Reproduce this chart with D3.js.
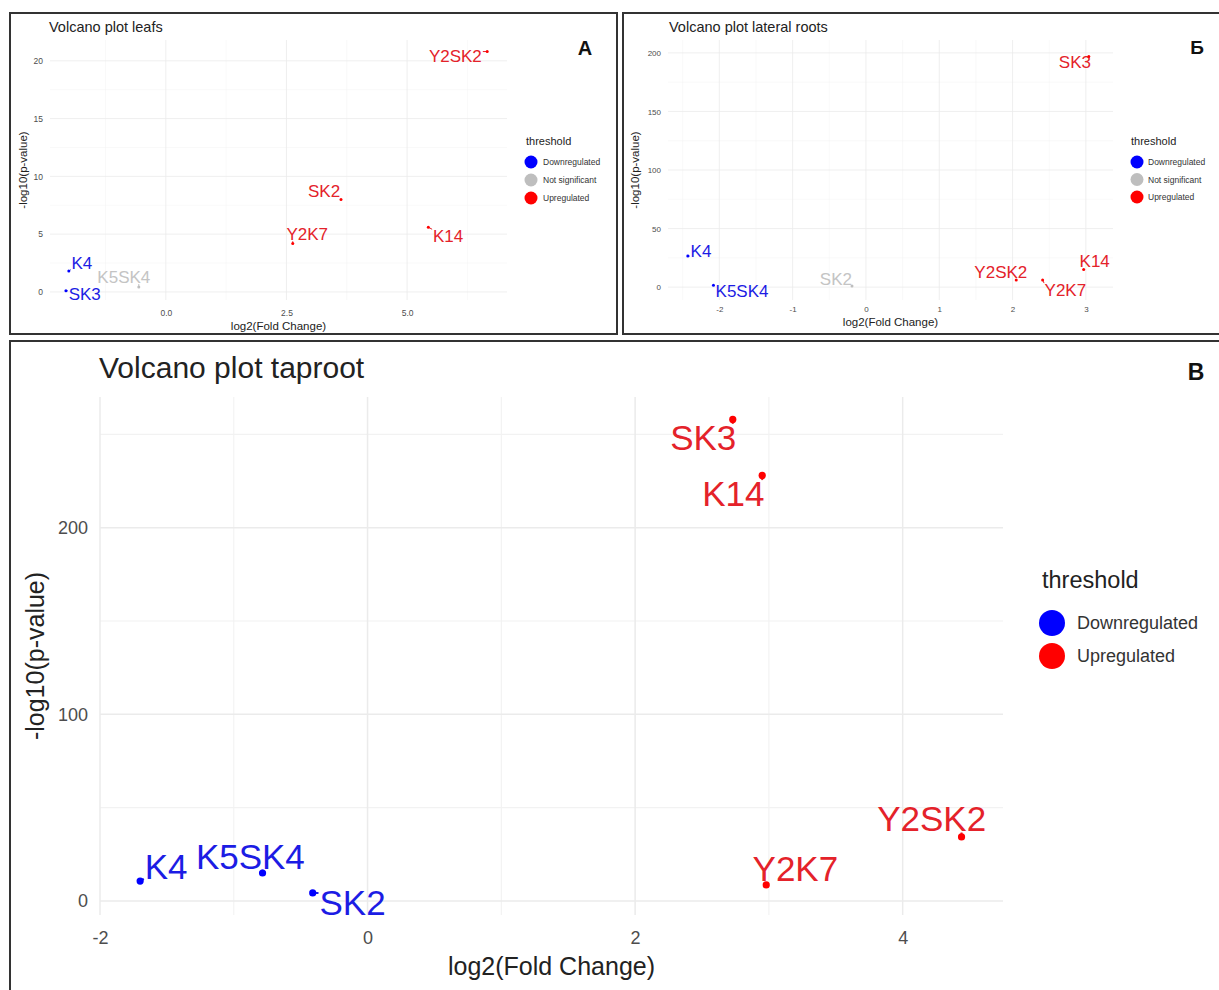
<!DOCTYPE html>
<html><head><meta charset="utf-8">
<script src="https://cdn.jsdelivr.net/npm/d3@7"></script>
<style>
body{margin:0;background:#fff}
text{font-family:"Liberation Sans",Arial,Helvetica,sans-serif}
</style>
</head><body>
<svg id="c" width="1219" height="990"></svg>
<script>
// ---------------- DATA ----------------
// Panel A: leafs
const genesLeafs   = ["Y2SK2","SK2","Y2K7","K14","K4","SK3","K5SK4"];
const fcLeafs      = [6.66, 3.63, 2.63, 5.44, -2.01, -2.07, -0.56];
const pLeafs       = [20.8, 8.0, 4.2, 5.6, 1.8, 0.1, 0.43];
const statusLeafs  = ["Upregulated","Upregulated","Upregulated","Upregulated","Downregulated","Downregulated","Not significant"];
const labelFcLeafs = [6.0, 3.28, 2.93, 5.85, -1.74, -1.68, -0.87];
const labelPLeafs  = [20.4, 8.7, 5.0, 4.85, 2.5, -0.17, 1.3];
const xTicksLeafs  = [0, 2.5, 5];
const xMinorLeafs  = [-1.25, 1.25, 3.75, 6.25];
const yTicksLeafs  = [0, 5, 10, 15, 20];
const yMinorLeafs  = [2.5, 7.5, 12.5, 17.5];

// Panel Б: lateral roots
const genesLateral   = ["SK3","K14","Y2SK2","Y2K7","K4","K5SK4","SK2"];
const fcLateral      = [3.04, 2.97, 2.05, 2.41, -2.43, -2.08, -0.19];
const pLateral       = [197, 15, 6, 6, 26.5, 1.7, 0.9];
const statusLateral  = ["Upregulated","Upregulated","Upregulated","Upregulated","Downregulated","Downregulated","Not significant"];
const labelFcLateral = [2.85, 3.12, 1.84, 2.72, -2.25, -1.69, -0.41];
const labelPLateral  = [192, 22, 12.8, -2.6, 30.8, -3.4, 6.8];
const xTicksLateral  = [-2, -1, 0, 1, 2, 3];
const xMinorLateral  = [-2.5, -1.5, -0.5, 0.5, 1.5, 2.5];
const yTicksLateral  = [0, 50, 100, 150, 200];
const yMinorLateral  = [25, 75, 125, 175];

// Panel В: taproot
const genesTaproot   = ["SK3","K14","Y2SK2","Y2K7","K4","K5SK4","SK2"];
const fcTaproot      = [2.73, 2.95, 4.44, 2.98, -1.70, -0.785, -0.41];
const pTaproot       = [258, 228, 34.3, 8.6, 10.7, 15.0, 4.3];
const statusTaproot  = ["Upregulated","Upregulated","Upregulated","Upregulated","Downregulated","Downregulated","Downregulated"];
const labelFcTaproot = [2.509, 2.734, 4.217, 3.198, -1.506, -0.876, -0.112];
const labelPTaproot  = [248.3, 218.2, 44.0, 17.2, 18.8, 24.1, -0.5];
const xTicksTaproot  = [-2, 0, 2, 4];
const xMinorTaproot  = [-1, 1, 3];
const yTicksTaproot  = [0, 100, 200];
const yMinorTaproot  = [50, 150, 250];

const legendThree = ["Downregulated","Not significant","Upregulated"];
const legendTwo   = ["Downregulated","Upregulated"];

// ---------------- STYLE ----------------
const pointColor = {"Downregulated":"#0000ff","Not significant":"#bebebe","Upregulated":"#ff0000"};
const textColor  = {"Downregulated":"#1c1ce4","Not significant":"#c4c4c4","Upregulated":"#e4222a"};
const hyphenInt = d => String(d).replace("\u2212","-");
const hyphenOne = d => d3.format(".1f")(d).replace("\u2212","-");

const svg = d3.select("#c");
svg.append("rect").attr("width",1219).attr("height",990).attr("fill","#fff");

// panel borders
const borders = [[10,13,607,321],[623,13,600,321],[10,341,1213,660]];
borders.forEach(b=>svg.append("rect").attr("x",b[0]).attr("y",b[1]).attr("width",b[2]).attr("height",b[3])
  .attr("fill","none").attr("stroke","#333").attr("stroke-width",2));

function drawPanel(c){
  const g = svg.append("g");
  const x = d3.scaleLinear().domain(c.xDomain).range([c.left,c.right]);
  const y = d3.scaleLinear().domain(c.yDomain).range([c.bottom,c.top]);

  // grid (minor then major)
  const grid = g.append("g");
  grid.selectAll(".vmin").data(c.xMinor).join("line")
    .attr("x1",d=>x(d)).attr("x2",d=>x(d)).attr("y1",c.top).attr("y2",c.bottom)
    .attr("stroke","#f2f2f2").attr("stroke-width",c.minorW);
  grid.selectAll(".hmin").data(c.yMinor).join("line")
    .attr("y1",d=>y(d)).attr("y2",d=>y(d)).attr("x1",c.left).attr("x2",c.right)
    .attr("stroke","#f2f2f2").attr("stroke-width",c.minorW);
  grid.selectAll(".vmaj").data(c.xTicks).join("line")
    .attr("x1",d=>x(d)).attr("x2",d=>x(d)).attr("y1",c.top).attr("y2",c.bottom)
    .attr("stroke","#ebebeb").attr("stroke-width",c.majorW);
  grid.selectAll(".hmaj").data(c.yTicks).join("line")
    .attr("y1",d=>y(d)).attr("y2",d=>y(d)).attr("x1",c.left).attr("x2",c.right)
    .attr("stroke","#ebebeb").attr("stroke-width",c.majorW);

  // axes
  const ax = g.append("g").attr("transform",`translate(0,${c.bottom})`)
    .call(d3.axisBottom(x).tickValues(c.xTicks).tickSize(0).tickPadding(c.xPad).tickFormat(c.xFormat));
  const ay = g.append("g").attr("transform",`translate(${c.left},0)`)
    .call(d3.axisLeft(y).tickValues(c.yTicks).tickSize(0).tickPadding(c.yPad).tickFormat(hyphenInt));
  [ax,ay].forEach(a=>{
    a.select(".domain").remove();
    a.selectAll("text").attr("fill","#4d4d4d").style("font-size",c.tickFs+"px")
      .style("font-family",'"Liberation Sans",Arial,sans-serif');
  });

  // axis titles
  g.append("text").attr("x",(c.left+c.right)/2).attr("y",c.xTitleY)
    .attr("text-anchor","middle").attr("dominant-baseline","central")
    .attr("fill","#222").style("font-size",c.axisFs+"px").text("log2(Fold Change)");
  g.append("text").attr("transform",`translate(${c.yTitleX},${(c.top+c.bottom)/2}) rotate(-90)`)
    .attr("text-anchor","middle").attr("dominant-baseline","central")
    .attr("fill","#222").style("font-size",c.axisFs+"px").text("-log10(p-value)");

  // title
  g.append("text").attr("x",c.titleX).attr("y",c.titleY).attr("fill","#222")
    .style("font-size",c.titleFs+"px").text(c.title);
  // panel letter
  g.append("text").attr("x",c.letterX).attr("y",c.letterY).attr("fill","#111")
    .attr("text-anchor","middle").style("font-weight","bold").style("font-size",c.letterFs+"px").text(c.letter);

  // data
  const data = c.genes.map((gname,i)=>({gene:gname,fc:c.fc[i],p:c.p[i],st:c.status[i],lx:c.labelFc[i],ly:c.labelP[i]}));

  // labels + segments
  const segG = g.append("g");
  const labG = g.append("g");
  data.forEach(d=>{
    const t = labG.append("text").attr("x",x(d.lx)).attr("y",y(d.ly)+0.36*c.labelFs)
      .attr("text-anchor","middle").attr("fill",textColor[d.st])
      .style("font-size",c.labelFs+"px").text(d.gene);
    const bb = t.node().getBBox();
    const x0 = bb.x, x1 = bb.x+bb.width;
    const yb = y(d.ly)+0.36*c.labelFs, y0 = yb-0.72*c.labelFs, y1 = yb;
    const px = x(d.fc), py = y(d.p);
    const nx = Math.max(x0,Math.min(x1,px)), ny = Math.max(y0,Math.min(y1,py));
    const dist = Math.hypot(nx-px,ny-py);
    if(dist > c.minSeg){
      const k = (dist-1)/dist;
      segG.append("line").attr("x1",px).attr("y1",py)
        .attr("x2",px+(nx-px)*k).attr("y2",py+(ny-py)*k)
        .attr("stroke",textColor[d.st]).attr("stroke-width",c.segW);
    }
  });
  g.append("g").selectAll("circle").data(data).join("circle")
    .attr("cx",d=>x(d.fc)).attr("cy",d=>y(d.p)).attr("r",c.pointR)
    .attr("fill",d=>pointColor[d.st]);

  // legend
  const lg = g.append("g");
  lg.append("text").attr("x",c.legX).attr("y",c.legTitleY).attr("fill","#222")
    .style("font-size",c.legTitleFs+"px").text("threshold");
  c.legend.forEach((s,i)=>{
    const cy = c.legY0 + i*c.legStep;
    lg.append("circle").attr("cx",c.legCx).attr("cy",cy).attr("r",c.legR).attr("fill",pointColor[s]);
    lg.append("text").attr("x",c.legTx).attr("y",cy).attr("dominant-baseline","central")
      .attr("fill","#333").style("font-size",c.legFs+"px").text(s);
  });
}

drawPanel({
  title:"Volcano plot leafs", titleX:49, titleY:32, titleFs:14.5,
  letter:"A", letterX:585, letterY:55, letterFs:20,
  genes:genesLeafs, fc:fcLeafs, p:pLeafs, status:statusLeafs, labelFc:labelFcLeafs, labelP:labelPLeafs,
  xTicks:xTicksLeafs, xMinor:xMinorLeafs, yTicks:yTicksLeafs, yMinor:yMinorLeafs,
  xDomain:[-2.4,7.07], yDomain:[-0.7,21.8], left:50, right:507, top:40, bottom:300,
  xFormat:hyphenOne, xPad:10, yPad:7, tickFs:8.5, axisFs:11.5, xTitleY:326, yTitleX:23,
  labelFs:17, pointR:1.5, segW:1, minSeg:2.5, majorW:0.8, minorW:0.5,
  legend:legendThree, legX:526, legTitleY:145, legTitleFs:11, legCx:531, legY0:162, legStep:18, legR:6.5, legTx:543, legFs:8.5
});

drawPanel({
  title:"Volcano plot lateral roots", titleX:669, titleY:32, titleFs:14.5,
  letter:"Б", letterX:1197, letterY:54, letterFs:19,
  genes:genesLateral, fc:fcLateral, p:pLateral, status:statusLateral, labelFc:labelFcLateral, labelP:labelPLateral,
  xTicks:xTicksLateral, xMinor:xMinorLateral, yTicks:yTicksLateral, yMinor:yMinorLateral,
  xDomain:[-2.70,3.37], yDomain:[-11,211], left:668, right:1113, top:40, bottom:300,
  xFormat:hyphenInt, xPad:6.5, yPad:7, tickFs:8, axisFs:11.5, xTitleY:322, yTitleX:635,
  labelFs:17, pointR:1.5, segW:1, minSeg:2.5, majorW:0.8, minorW:0.5,
  legend:legendThree, legX:1131, legTitleY:145, legTitleFs:11, legCx:1137, legY0:162, legStep:17.5, legR:6.5, legTx:1148, legFs:8.5
});

drawPanel({
  title:"Volcano plot taproot", titleX:99, titleY:378, titleFs:30,
  letter:"В", letterX:1196, letterY:380, letterFs:23,
  genes:genesTaproot, fc:fcTaproot, p:pTaproot, status:statusTaproot, labelFc:labelFcTaproot, labelP:labelPTaproot,
  xTicks:xTicksTaproot, xMinor:xMinorTaproot, yTicks:yTicksTaproot, yMinor:yMinorTaproot,
  xDomain:[-2.0,4.75], yDomain:[-7.5,270], left:100, right:1003, top:397, bottom:915,
  xFormat:hyphenInt, xPad:16, yPad:12, tickFs:18, axisFs:25, xTitleY:966, yTitleX:35,
  labelFs:35, pointR:3.6, segW:2, minSeg:4, majorW:1.5, minorW:1.1,
  legend:legendTwo, legX:1042, legTitleY:588, legTitleFs:23.5, legCx:1052, legY0:623, legStep:33, legR:13, legTx:1077, legFs:18
});
</script>
</body></html>
